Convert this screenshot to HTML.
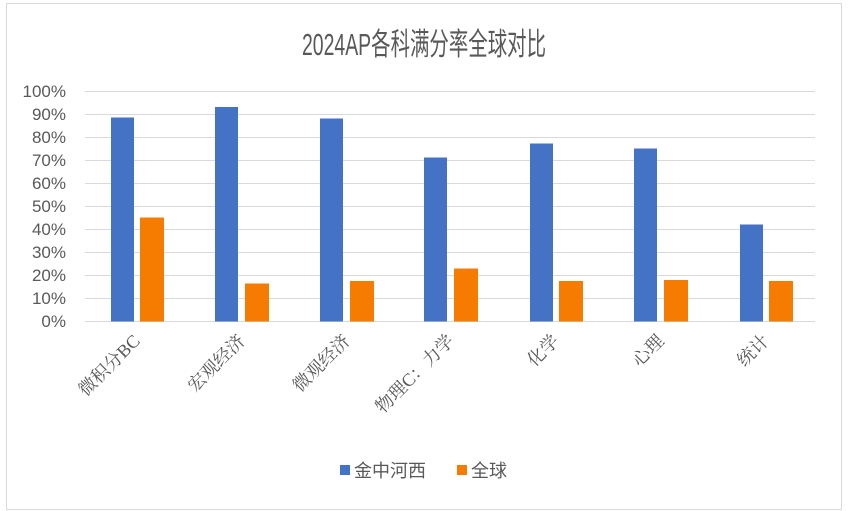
<!DOCTYPE html>
<html><head><meta charset="utf-8"><style>
body{margin:0;background:#fff;}
svg{display:block;}
</style></head><body>
<svg width="848" height="511" xmlns="http://www.w3.org/2000/svg">
<rect x="0" y="0" width="848" height="511" fill="#fff"/>
<rect x="6.5" y="3.5" width="835" height="506" fill="#fff" stroke="#d9d9d9"/>
<text x="424" y="55" text-anchor="middle" font-family="Liberation Sans, Noto Sans CJK SC, sans-serif" font-size="31" fill="#595959" textLength="244" lengthAdjust="spacingAndGlyphs">2024AP各科满分率全球对比</text>
<g stroke="#d9d9d9" stroke-width="1">
<line x1="85" x2="815" y1="91.5" y2="91.5"/>
<line x1="85" x2="815" y1="114.5" y2="114.5"/>
<line x1="85" x2="815" y1="137.5" y2="137.5"/>
<line x1="85" x2="815" y1="160.5" y2="160.5"/>
<line x1="85" x2="815" y1="183.5" y2="183.5"/>
<line x1="85" x2="815" y1="206.5" y2="206.5"/>
<line x1="85" x2="815" y1="229.5" y2="229.5"/>
<line x1="85" x2="815" y1="252.5" y2="252.5"/>
<line x1="85" x2="815" y1="275.5" y2="275.5"/>
<line x1="85" x2="815" y1="298.5" y2="298.5"/>
<line x1="85" x2="815" y1="321.5" y2="321.5"/>
</g>
<g font-family="Liberation Sans, sans-serif" font-size="17" fill="#595959" text-anchor="end">
<text x="66" y="97">100%</text><text x="66" y="120">90%</text><text x="66" y="143">80%</text>
<text x="66" y="166">70%</text><text x="66" y="189">60%</text><text x="66" y="212">50%</text>
<text x="66" y="235">40%</text><text x="66" y="258">30%</text><text x="66" y="281">20%</text>
<text x="66" y="304">10%</text><text x="66" y="327">0%</text>
</g>
<g fill="#4472c4">
<rect x="111" y="117.5" width="23" height="204"/>
<rect x="215" y="107" width="23" height="214.5"/>
<rect x="320" y="118.5" width="23" height="203"/>
<rect x="424" y="157.5" width="23" height="164"/>
<rect x="530" y="143.5" width="23" height="178"/>
<rect x="634" y="148.5" width="23" height="173"/>
<rect x="740" y="224.5" width="23" height="97"/>
</g>
<g fill="#f57c00">
<rect x="140" y="217.5" width="24" height="104"/>
<rect x="245" y="283.5" width="24" height="38"/>
<rect x="350" y="281" width="24" height="40.5"/>
<rect x="454" y="268.5" width="24" height="53"/>
<rect x="559" y="281" width="24" height="40.5"/>
<rect x="664" y="280" width="24" height="41.5"/>
<rect x="769" y="281" width="24" height="40.5"/>
</g>
<g font-family="Liberation Serif, Noto Serif CJK SC, serif" font-size="18" fill="#595959" text-anchor="end">
<text transform="translate(141,342) rotate(-45)">微积分BC</text>
<text transform="translate(246,342) rotate(-45)">宏观经济</text>
<text transform="translate(351,342) rotate(-45)">微观经济</text>
<text transform="translate(455,342) rotate(-45)">物理C：力学</text>
<text transform="translate(560,342) rotate(-45)">化学</text>
<text transform="translate(665,342) rotate(-45)">心理</text>
<text transform="translate(770,342) rotate(-45)">统计</text>
</g>
<rect x="340" y="465" width="10" height="10" fill="#4472c4"/>
<text x="354" y="477" font-family="Liberation Sans, Noto Sans CJK SC, sans-serif" font-size="18" fill="#595959">金中河西</text>
<rect x="457" y="465" width="10" height="10" fill="#f57c00"/>
<text x="471" y="477" font-family="Liberation Sans, Noto Sans CJK SC, sans-serif" font-size="18" fill="#595959">全球</text>
</svg>
</body></html>
